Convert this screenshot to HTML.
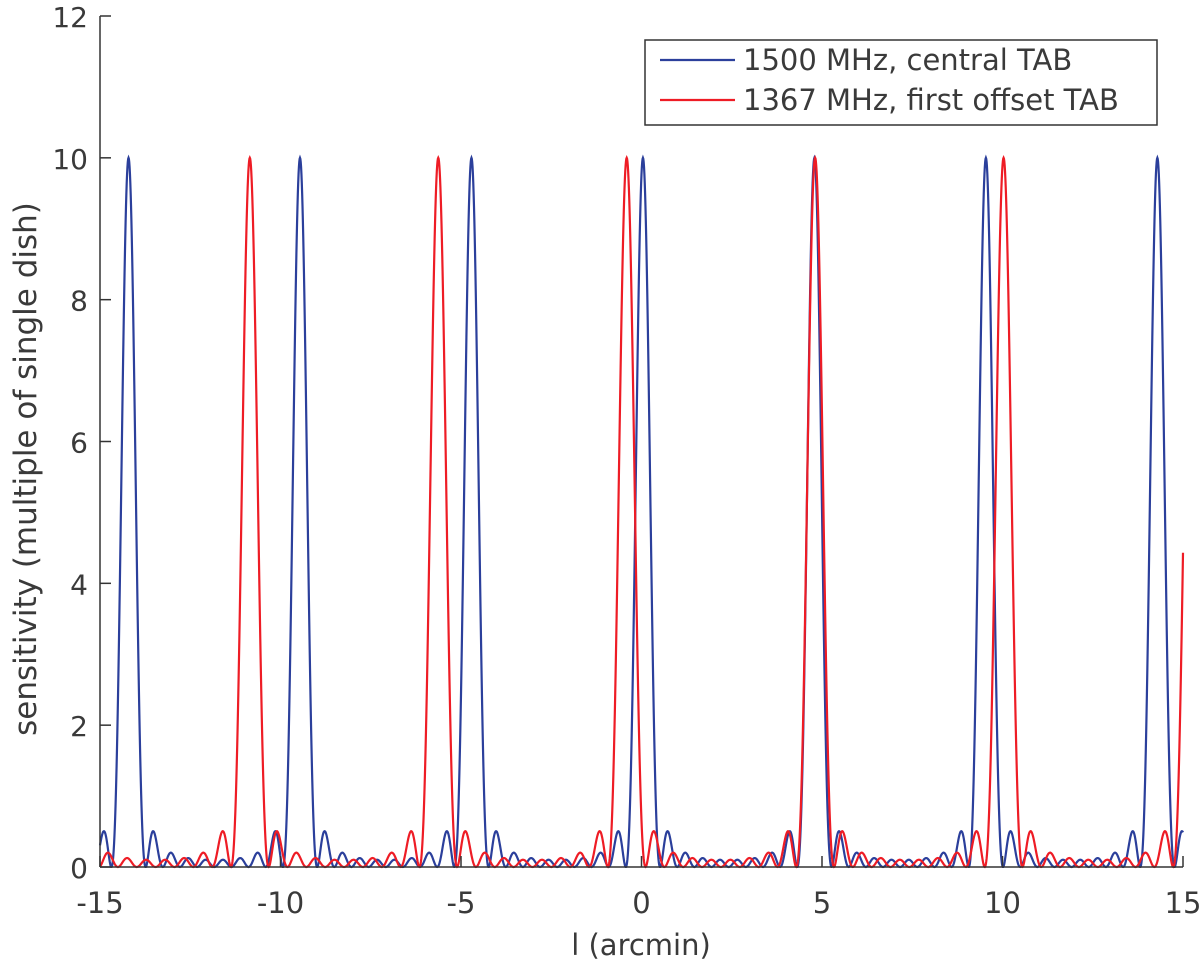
<!DOCTYPE html>
<html><head><meta charset="utf-8"><style>
body{margin:0;background:#fff}
svg text{font-family:"DejaVu Sans","Liberation Sans",sans-serif;fill:#3a3a3a}
</style></head><body>
<svg id="chart" width="1200" height="968" viewBox="0 0 1200 968" xmlns="http://www.w3.org/2000/svg">
<g id="series"></g>
<g id="axes"></g>
<g>
<rect x="645" y="40" width="512" height="85" fill="#fff" stroke="#333" stroke-width="1.5"/>
<line x1="660" y1="60" x2="735" y2="60" stroke="#2b3f9b" stroke-width="2.2"/>
<text x="743" y="70" font-size="29">1500 MHz, central TAB</text>
<line x1="660" y1="100" x2="735" y2="100" stroke="#ee1c25" stroke-width="2.2"/>
<text x="743" y="110" font-size="29">1367 MHz, first offset TAB</text>
</g>
<text x="641" y="955" font-size="29" text-anchor="middle">l (arcmin)</text>
<text transform="translate(36,469) rotate(-90)" font-size="31" text-anchor="middle">sensitivity (multiple of single dish)</text>
</svg>
<script>
const xTicks=[-15,-10,-5,0,5,10,15];
const yTicks=[0,2,4,6,8,10,12];
const peakHeight=10;
const blueCenter=[0.04];
const bluePeriod=[4.75];
const redCenter=[-0.41];
const redPeriod=[5.22];
const elements=[10];
const X0=100,X1=1183,Y0=867,Y1=16;
const sx=v=>X0+(v+15)/30*(X1-X0);
const sy=v=>Y0-v/12*(Y0-Y1);
const NS='http://www.w3.org/2000/svg';
const axes=document.getElementById('axes');
function mk(tag,attrs,parent){const e=document.createElementNS(NS,tag);for(const k in attrs)e.setAttribute(k,attrs[k]);parent.appendChild(e);return e;}
let a=mk('line',{x1:X0,y1:Y0,x2:X1,y2:Y0,stroke:'#333','stroke-width':1.5},axes);


a=mk('line',{x1:X0,y1:Y0,x2:X0,y2:Y1,stroke:'#333','stroke-width':1.5},axes);


xTicks.forEach(t=>{
 mk('line',{x1:sx(t),y1:Y0,x2:sx(t),y2:Y0-11,stroke:'#333','stroke-width':1.5},axes);
 const tx=mk('text',{x:sx(t),y:Y0+46,'font-size':29,'text-anchor':'middle'},axes);
 tx.textContent=t;
 
 
});
yTicks.forEach(t=>{
 mk('line',{x1:X0,y1:sy(t),x2:X0+11,y2:sy(t),stroke:'#333','stroke-width':1.5},axes);
 const tx=mk('text',{x:X0-12,y:sy(t)+11,'font-size':28,'text-anchor':'end'},axes);
 tx.textContent=t;
 
 
});
function beam(x,c,p,N){const u=(x-c)/p;const s=Math.sin(Math.PI*u);if(Math.abs(s)<1e-9)return peakHeight;const r=Math.sin(N*Math.PI*u)/(N*s);return peakHeight*r*r;}
function draw(c,p,color,name){
 let d='';
 for(let i=0;i<=3000;i++){const x=-15+30*i/3000;const v=beam(x,c,p,elements[0]);d+=(i?'L':'M')+sx(x).toFixed(2)+','+sy(v).toFixed(2);}
 const path=mk('path',{d:d,fill:'none',stroke:color,'stroke-width':2.2},document.getElementById('series'));
 
 
}
draw(blueCenter[0],bluePeriod[0],'#2b3f9b','series-1500mhz');
draw(redCenter[0],redPeriod[0],'#ee1c25','series-1367mhz');
</script>
</body></html>
